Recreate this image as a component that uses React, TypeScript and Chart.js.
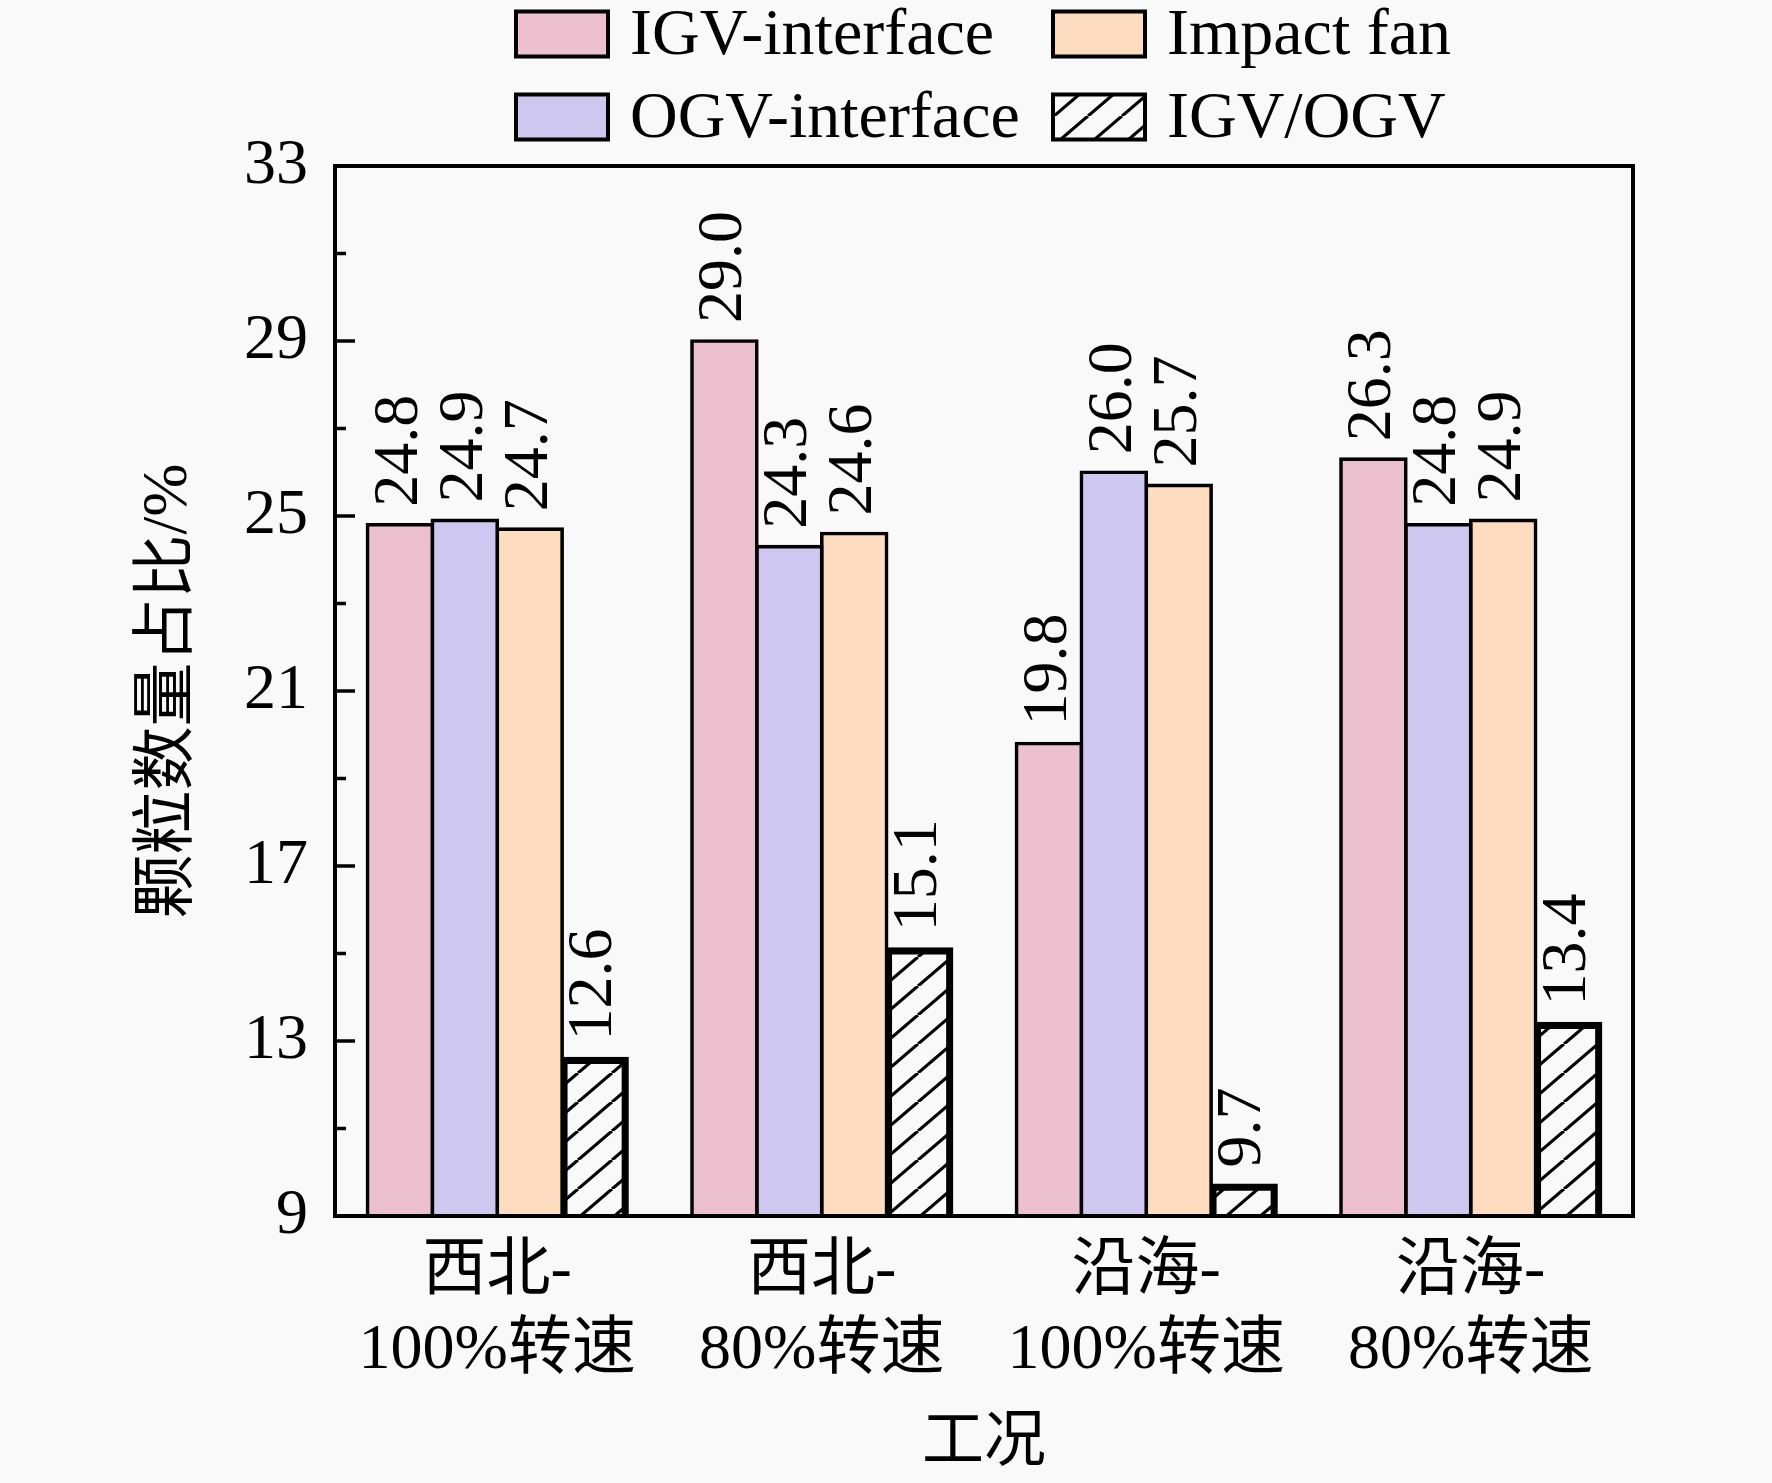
import { useEffect, useRef } from "react";
import { Chart, registerables } from "chart.js";

Chart.register(...registerables);

const categories = [
  ["西北-", "100%转速"],
  ["西北-", "80%转速"],
  ["沿海-", "100%转速"],
  ["沿海-", "80%转速"],
];
const seriesNames = ["IGV-interface", "OGV-interface", "Impact fan", "IGV/OGV"];
const igvInterface = [24.8, 29.0, 19.8, 26.3];
const ogvInterface = [24.9, 24.3, 26.0, 24.8];
const impactFan = [24.7, 24.6, 25.7, 24.9];
const igvOgv = [12.6, 15.1, 9.7, 13.4];
const yTicks = [9, 13, 17, 21, 25, 29, 33];

const SERIF = "'Liberation Serif', 'Times New Roman', serif";
const CJK = "'Liberation Serif', 'Noto Sans CJK SC', sans-serif";
const BG = "#f9f9f9";

function makeHatch(): CanvasPattern | string {
  const w = 34;
  const h = 29;
  const c = document.createElement("canvas");
  c.width = w;
  c.height = h;
  const g = c.getContext("2d");
  if (!g) return "#ffffff";
  g.strokeStyle = "#000";
  g.lineWidth = 3.2;
  for (const dx of [-w, 0, w]) {
    g.beginPath();
    g.moveTo(dx, h);
    g.lineTo(dx + w, 0);
    g.stroke();
  }
  return g.createPattern(c, "repeat") ?? "#ffffff";
}

const decorPlugin = {
  id: "decor",
  afterDatasetsDraw(chart: any) {
    const { ctx } = chart;
    ctx.save();
    ctx.fillStyle = "#000";
    ctx.font = `64px ${SERIF}`;
    ctx.textAlign = "left";
    ctx.textBaseline = "middle";
    chart.data.datasets.forEach((ds: any, i: number) => {
      chart.getDatasetMeta(i).data.forEach((bar: any, j: number) => {
        ctx.save();
        ctx.translate(bar.x, bar.y - 18);
        ctx.rotate(-Math.PI / 2);
        ctx.fillText(Number(ds.data[j]).toFixed(1), 0, 0);
        ctx.restore();
      });
    });
    ctx.restore();
  },
  afterDraw(chart: any) {
    const { ctx, chartArea } = chart;
    const y = chart.scales.y;
    ctx.save();
    ctx.strokeStyle = "#000";

    // ticks on the left axis, pointing inside
    ctx.lineWidth = 3.5;
    for (let k = 0; k < yTicks.length; k++) {
      const major = yTicks[k];
      const py = y.getPixelForValue(major);
      ctx.beginPath();
      ctx.moveTo(chartArea.left, py);
      ctx.lineTo(chartArea.left + 20, py);
      ctx.stroke();
      if (k < yTicks.length - 1) {
        const pm = y.getPixelForValue((major + yTicks[k + 1]) / 2);
        ctx.beginPath();
        ctx.moveTo(chartArea.left, pm);
        ctx.lineTo(chartArea.left + 11, pm);
        ctx.stroke();
      }
    }

    // frame
    ctx.lineWidth = 4;
    ctx.strokeRect(
      chartArea.left,
      chartArea.top,
      chartArea.right - chartArea.left,
      chartArea.bottom - chartArea.top
    );

    // legend, two columns
    const boxW = 92;
    const boxH = 45;
    const colX = [516, 1053];
    const rowY = [34, 117];
    ctx.font = `66px ${SERIF}`;
    ctx.textAlign = "left";
    ctx.textBaseline = "middle";
    chart.data.datasets.forEach((ds: any, i: number) => {
      const bx = colX[Math.floor(i / 2)];
      const cy = rowY[i % 2];
      ctx.fillStyle = BG;
      ctx.fillRect(bx, cy - boxH / 2, boxW, boxH);
      ctx.fillStyle = ds.backgroundColor;
      ctx.fillRect(bx, cy - boxH / 2, boxW, boxH);
      ctx.lineWidth = 4;
      ctx.strokeRect(bx, cy - boxH / 2, boxW, boxH);
      ctx.fillStyle = "#000";
      ctx.fillText(ds.label, bx + boxW + 22, cy + 3);
    });
    ctx.restore();
  },
};

export default function App() {
  const canvasRef = useRef<HTMLCanvasElement | null>(null);

  useEffect(() => {
    document.body.style.margin = "0";
    document.body.style.background = BG;
    if (!canvasRef.current) return;

    const hatch = makeHatch();
    const fills = ["#ecc0cf", "#cec8f1", "#fddcbf", hatch];
    const values = [igvInterface, ogvInterface, impactFan, igvOgv];

    const chart = new Chart(canvasRef.current, {
      type: "bar",
      data: {
        labels: categories,
        datasets: values.map((data, i) => ({
          label: seriesNames[i],
          data,
          backgroundColor: fills[i] as any,
          borderColor: "#000",
          borderWidth: 3.6,
          inflateAmount: 1.8,
          barPercentage: 1,
          categoryPercentage: 0.8,
        })),
      },
      options: {
        animation: false,
        responsive: false,
        devicePixelRatio: 1,
        layout: { padding: { top: 166, right: 139, bottom: 0, left: 0 } },
        plugins: {
          legend: { display: false },
          tooltip: { enabled: false },
        },
        scales: {
          x: {
            grid: { display: false, drawTicks: false },
            border: { display: false },
            ticks: {
              color: "#000",
              font: { family: CJK, size: 64, lineHeight: 1.23 },
              padding: 17,
              maxRotation: 0,
              autoSkip: false,
            },
            title: {
              display: true,
              text: "工况",
              color: "#000",
              font: { family: CJK, size: 62 },
              padding: { top: 0, bottom: 1 },
            },
            afterFit: (s: any) => {
              s.height = 267;
            },
          },
          y: {
            min: yTicks[0],
            max: yTicks[yTicks.length - 1],
            grid: { display: false, drawTicks: false },
            border: { display: false },
            ticks: {
              stepSize: yTicks[1] - yTicks[0],
              color: "#000",
              font: { family: SERIF, size: 64 },
              padding: 27,
            },
            title: {
              display: true,
              text: "颗粒数量占比/%",
              color: "#000",
              font: { family: CJK, size: 64 },
              padding: { top: 131, bottom: 0 },
            },
            afterFit: (s: any) => {
              s.width = 335;
            },
          },
        },
      },
      plugins: [decorPlugin],
    });

    return () => chart.destroy();
  }, []);

  return (
    <div style={{ position: "absolute", left: 0, top: 0, width: 1772, height: 1483, background: BG }}>
      <canvas ref={canvasRef} width={1772} height={1483} style={{ display: "block" }} />
    </div>
  );
}
